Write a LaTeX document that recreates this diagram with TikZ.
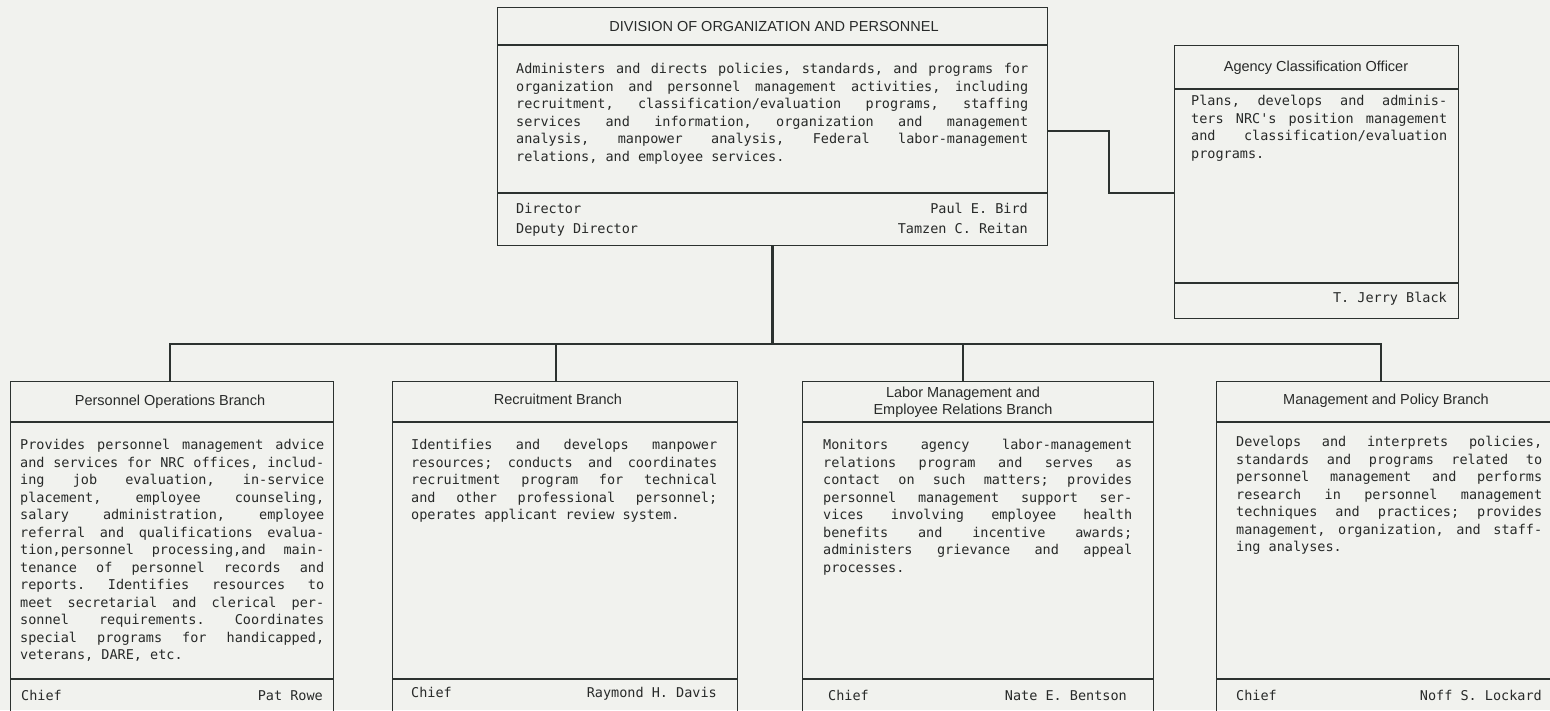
\documentclass[tikz,border=0pt]{standalone}
\usepackage{fontspec}
\setmainfont{Liberation Sans}
\newfontfamily\monof{DejaVu Sans Mono}
\newfontfamily\titlef{Liberation Sans}
\definecolor{bg}{RGB}{241,242,238}
\definecolor{ink}{RGB}{44,50,47}
\definecolor{txt}{RGB}{40,42,41}
\newcommand\jmono{\monof\fontsize{13.5}{17.5}\selectfont\frenchspacing\spaceskip=\fontdimen2\font plus 6em\relax}
\tikzset{
  box/.style={draw=ink, line width=1.4pt, anchor=north west, inner sep=0pt},
  conn/.style={draw=ink, line width=2.8pt, line join=miter},
  sepline/.style={draw=ink, line width=1.4pt},
  ttl/.style={font=\titlef\fontsize{14.5}{17}\selectfont, text=txt, inner sep=0pt, align=center},
  ttlone/.style={ttl, text height=10.5pt, text depth=3pt},
  para/.style={font=\jmono, text=txt, inner sep=0pt, anchor=north west, align=justify},
  foot/.style={font=\monof\fontsize{13.5}{17.5}\selectfont, text=txt, inner sep=0pt, text height=10pt, text depth=3pt},
}
\begin{document}
\begin{tikzpicture}[x=1pt, y=-1pt]
\useasboundingbox (0,0) rectangle (1550,710);
\fill[bg] (0,0) rectangle (1550,710);
\clip (0,0) rectangle (1550,710);

% ---------- boxes ----------
\node[box, minimum width=550pt, minimum height=238pt] (top) at (497,7) {};
\node[box, minimum width=284pt, minimum height=273pt] (ag) at (1174,45) {};
\node[box, minimum width=323pt, minimum height=350pt] (b1) at (10,381) {};
\node[box, minimum width=345pt, minimum height=350pt] (b2) at (392,381) {};
\node[box, minimum width=351pt, minimum height=350pt] (b3) at (802,381) {};
\node[box, minimum width=345pt, minimum height=350pt] (b4) at (1216,381) {};

% separators
\draw[sepline] (top.west |- 0,45) -- (top.east |- 0,45);
\draw[sepline] (top.west |- 0,193) -- (top.east |- 0,193);
\draw[sepline] (ag.west |- 0,89) -- (ag.east |- 0,89);
\draw[sepline] (ag.west |- 0,283) -- (ag.east |- 0,283);
\foreach \b in {b1,b2,b3,b4}{
  \draw[sepline] (\b.west |- 0,422) -- (\b.east |- 0,422);
  \draw[sepline] (\b.west |- 0,679) -- (\b.east |- 0,679);
}

% ---------- titles ----------
\node[ttlone] (topt) at (774,28) {DIVISION OF ORGANIZATION AND PERSONNEL};
\node[ttlone] (agt) at (1316,68) {Agency Classification Officer};
\node[ttlone] (b1t) at (170,402) {Personnel Operations Branch};
\node[ttlone] (b2t) at (558,401) {Recruitment Branch};
\node[ttl] (b3t) at (963,402) {Labor Management and\\Employee Relations Branch};
\node[ttlone] (b4t) at (1386,401) {Management and Policy Branch};

% ---------- descriptions ----------
\node[para, text width=512pt] (topd) at (516,63) {Administers and directs policies, standards, and programs for\linebreak
organization and personnel management activities, including\linebreak
recruitment, classification/evaluation programs, staffing\linebreak
services and information, organization and management\linebreak
analysis, manpower analysis, Federal labor-management\linebreak
relations, and employee services.};

\node[para, text width=256pt] (agd) at (1191,95) {Plans, develops and adminis-\linebreak
ters NRC's position management\linebreak
and classification/evaluation\linebreak
programs.};

\node[para, text width=304pt] (b1d) at (20,439) {Provides personnel management advice\linebreak
and services for NRC offices, includ-\linebreak
ing job evaluation, in-service\linebreak
placement, employee counseling,\linebreak
salary administration, employee\linebreak
referral and qualifications evalua-\linebreak
tion,personnel processing,and main-\linebreak
tenance of personnel records and\linebreak
reports. Identifies resources to\linebreak
meet secretarial and clerical per-\linebreak
sonnel requirements. Coordinates\linebreak
special programs for handicapped,\linebreak
veterans, DARE, etc.};

\node[para, text width=306pt] (b2d) at (411,439) {Identifies and develops manpower\linebreak
resources; conducts and coordinates\linebreak
recruitment program for technical\linebreak
and other professional personnel;\linebreak
operates applicant review system.};

\node[para, text width=309pt] (b3d) at (823,439) {Monitors agency labor-management\linebreak
relations program and serves as\linebreak
contact on such matters; provides\linebreak
personnel management support ser-\linebreak
vices involving employee health\linebreak
benefits and incentive awards;\linebreak
administers grievance and appeal\linebreak
processes.};

\node[para, text width=306pt] (b4d) at (1236,436) {Develops and interprets policies,\linebreak
standards and programs related to\linebreak
personnel management and performs\linebreak
research in personnel management\linebreak
techniques and practices; provides\linebreak
management, organization, and staff-\linebreak
ing analyses.};

% ---------- footers ----------
\node[foot, anchor=west] (dirl) at (516,210) {Director};
\node[foot, anchor=east] (dirn) at (1028,210) {Paul E. Bird};
\node[foot, anchor=west] (depl) at (516,230) {Deputy Director};
\node[foot, anchor=east] (depn) at (1028,230) {Tamzen C. Reitan};
\node[foot, anchor=east] (agn) at (1447,299) {T. Jerry Black};
\node[foot, anchor=west] (c1) at (21,697) {Chief};
\node[foot, anchor=east] (n1) at (323,697) {Pat Rowe};
\node[foot, anchor=west] (c2) at (411,694) {Chief};
\node[foot, anchor=east] (n2) at (717,694) {Raymond H. Davis};
\node[foot, anchor=west] (c3) at (828,697) {Chief};
\node[foot, anchor=east] (n3) at (1127,697) {Nate E. Bentson};
\node[foot, anchor=west] (c4) at (1236,697) {Chief};
\node[foot, anchor=east] (n4) at (1542,697) {Noff S. Lockard};

% ---------- connectors ----------
\coordinate (bus) at (0,344);
\coordinate (j1) at (170,344);
\coordinate (j2) at (556,344);
\coordinate (j3) at (963,344);
\coordinate (j4) at (1381,344);
\coordinate (a1) at (1109,131);
\coordinate (a2) at (1109,193);

\draw[conn] (top.south) -- (top.south |- bus);
\draw[conn] (j1 |- b1.north) -- (j1) -- (j4) -- (j4 |- b4.north);
\draw[conn] (j2) -- (j2 |- b2.north);
\draw[conn] (j3) -- (j3 |- b3.north);
\draw[conn] (top.east |- a1) -- (a1) -- (a2) -- (a2 -| ag.west);
\end{tikzpicture}
\end{document}
